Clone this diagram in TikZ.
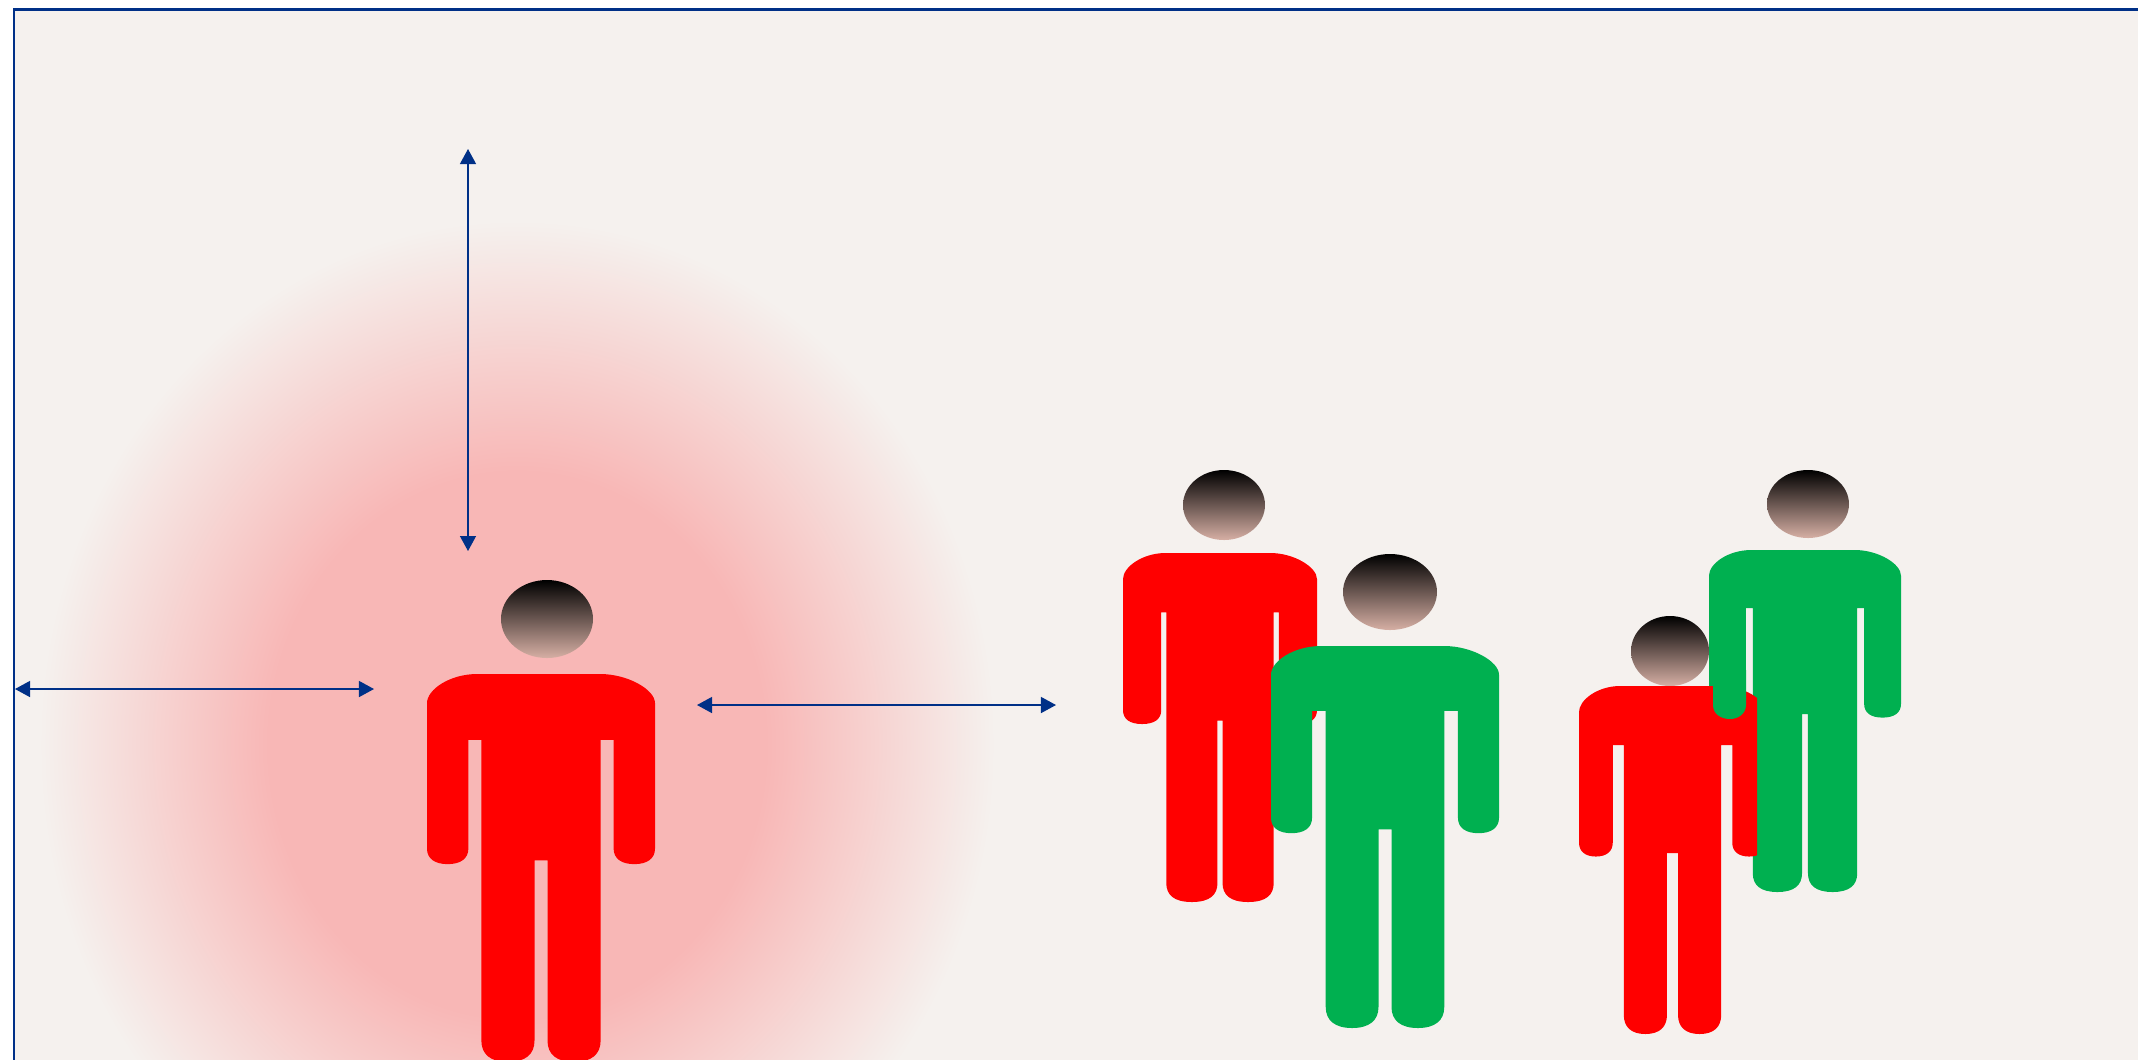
\documentclass[tikz,border=0pt]{standalone}
\usepackage{tikz}
\usepackage{xcolor}
\usetikzlibrary{arrows.meta}
\definecolor{paper}{HTML}{F5F1EE}
\definecolor{glowpink}{HTML}{F8B7B6}
\definecolor{framenavy}{HTML}{003087}
\definecolor{figred}{HTML}{FF0000}
\definecolor{figgreen}{HTML}{00B050}
\definecolor{headtan}{HTML}{D6AFA4}
\pgfdeclareradialshading{glowfade}{\pgfpoint{0bp}{0bp}}{color(0bp)=(glowpink); color(13bp)=(glowpink); color(25bp)=(paper); color(50bp)=(paper)}
\newcommand{\person}[7]{%
  \begin{scope}[shift={(#2,#3)},x=#4*0.01cm,y=-#5*0.01cm]
    \pgfmathsetmacro{\ai}{.21-#6/2}
    \pgfmathsetmacro{\lo}{.21+#6/2}
    \pgfmathsetmacro{\ro}{.79-#6/2}
    \pgfmathsetmacro{\ao}{.79+#6/2}
    \pgfmathsetmacro{\cl}{.5-#7/2}
    \pgfmathsetmacro{\cr}{.5+#7/2}
    \fill[#1] (0,.075) .. controls (0,.04) and (.1,0) .. (.22,0) -- (.76,0)
      .. controls (.88,0) and (1,.04) .. (1,.075) -- (1,.45)
      .. controls (1,.476) and (.965,.49) .. (\ao*.5+.5,.49)
      .. controls (\ao+.035,.49) and (\ao,.476) .. (\ao,.45) -- (\ao,.17) -- (\ro,.17)
      -- (\ro,.945) .. controls (\ro,.98) and (\ro-.04,1) .. (\ro*.5+\cr*.5,1)
      .. controls (\cr+.04,1) and (\cr,.98) .. (\cr,.945) -- (\cr,.48) -- (\cl,.48)
      -- (\cl,.945) .. controls (\cl,.98) and (\cl-.04,1) .. (\cl*.5+\lo*.5,1)
      .. controls (\lo+.04,1) and (\lo,.98) .. (\lo,.945) -- (\lo,.17) -- (\ai,.17)
      -- (\ai,.45) .. controls (\ai,.476) and (\ai-.035,.49) .. (\ai*.5,.49)
      .. controls (.035,.49) and (0,.476) .. (0,.45) -- cycle;
  \end{scope}}

\begin{document}
\begin{tikzpicture}[
  x=0.01cm,y=-0.01cm,
  head/.style={top color=black,bottom color=headtan},
  span/.style={draw=framenavy,line width=.37pt,
    {Triangle[length=1.5mm,width=1.6mm]}-{Triangle[length=1.5mm,width=1.6mm]}}
]
  \useasboundingbox (0,0) rectangle (2138,1059);
  \fill[white] (0,0) rectangle (2138,1059);
  \draw[framenavy,fill=paper,line width=.85pt] (14,9) rectangle (2170,1090);

  \shade[shading=glowfade] (517,745) ellipse [x radius=478,y radius=525];

  \coordinate (wallL)  at (15,689);
  \coordinate (reachL) at (374,689);
  \coordinate (reachR) at (697,705);
  \coordinate (farR)   at (1056,705);
  \coordinate (upT)    at (468,149);
  \coordinate (upB)    at (468,551);

  \draw[span] (wallL)--(reachL);
  \draw[span] (reachR)--(farR);
  \draw[span] (upT)--(upB);

  \shade[head] (547,619) ellipse [x radius=46,y radius=39];
  \person{figred}{427}{674}{228}{388}{.057}{.057}

  \shade[head] (1224,505) ellipse [x radius=41,y radius=35];
  \person{figred}{1123}{553}{194}{349}{.026}{.026}
  \shade[head] (1390,592) ellipse [x radius=47,y radius=38];
  \person{figgreen}{1271}{646}{228}{382}{.06}{.057}

  \shade[head] (1808,504) ellipse [x radius=41,y radius=34];
  \person{figgreen}{1709}{550}{192}{342}{.036}{.031}
  \shade[head] (1670,651) ellipse [x radius=39,y radius=35];
  \begin{scope}
    \clip (1500,600) rectangle (1757,1059);
    \person{figred}{1579}{686}{187}{348}{.059}{.059}
  \end{scope}
  \fill[figgreen] (1713,670) -- (1746,670) -- (1746,705)
    .. controls (1746,714) and (1738,719) .. (1730,719)
    .. controls (1721,719) and (1713,714) .. (1713,705) -- cycle;
\end{tikzpicture}
\end{document}
